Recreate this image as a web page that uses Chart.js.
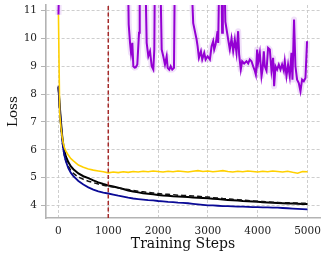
<!DOCTYPE html>
<html lang="en">
<head>
    <meta charset="UTF-8">
    <title>Loss vs Training Steps</title>
    <script src="https://cdn.jsdelivr.net/npm/chart.js"></script>
    <style>
        body {
            margin: 0;
            padding: 0;
            background: #ffffff;
        }
        canvas {
            display: block;
        }
    </style>
</head>
<body>
    <canvas id="lossChart" width="329" height="261"></canvas>

    <script>
        // x values shared by the yellow, blue and black curves
        const steps = [0, 25, 50, 75, 100, 125, 150, 200, 250, 300, 400, 500, 600, 700, 800, 900,
            1000, 1100, 1200, 1300, 1400, 1500, 1600, 1700, 1800, 1900,
            2000, 2100, 2200, 2300, 2400, 2500, 2600, 2700, 2800, 2900,
            3000, 3100, 3200, 3300, 3400, 3500, 3600, 3700, 3800, 3900,
            4000, 4100, 4200, 4300, 4400, 4500, 4600, 4700, 4800, 4900, 5000];

        const yellowLoss = [10.85, 7.3, 6.8, 6.45, 6.2, 6.05, 5.95, 5.8, 5.68, 5.6, 5.45, 5.37, 5.31, 5.27, 5.24, 5.21,
            5.17, 5.2, 5.18, 5.21, 5.19, 5.22, 5.2, 5.23, 5.21, 5.24,
            5.22, 5.2, 5.23, 5.21, 5.24, 5.22, 5.2, 5.23, 5.25, 5.22,
            5.24, 5.21, 5.23, 5.25, 5.22, 5.2, 5.23, 5.21, 5.24, 5.22,
            5.2, 5.23, 5.21, 5.24, 5.22, 5.2, 5.23, 5.19, 5.16, 5.22, 5.21];

        const blueLoss = [8.3, 7.5, 6.9, 6.35, 6.0, 5.75, 5.58, 5.33, 5.17, 5.05, 4.88, 4.75, 4.65, 4.57, 4.51, 4.46,
            4.43, 4.39, 4.35, 4.32, 4.28, 4.25, 4.23, 4.21, 4.19, 4.18,
            4.16, 4.15, 4.13, 4.12, 4.1, 4.09, 4.08, 4.06, 4.04, 4.02,
            4.0, 4.0, 3.99, 3.98, 3.98, 3.97, 3.96, 3.96, 3.95, 3.94,
            3.94, 3.93, 3.93, 3.92, 3.92, 3.91, 3.9, 3.89, 3.88, 3.87, 3.86];

        const blackLoss = [8.25, 7.6, 7.0, 6.5, 6.15, 5.92, 5.75, 5.55, 5.4, 5.3, 5.15, 5.05, 4.98, 4.9, 4.83, 4.77,
            4.72, 4.68, 4.64, 4.59, 4.54, 4.5, 4.47, 4.44, 4.42, 4.4,
            4.38, 4.36, 4.35, 4.33, 4.32, 4.31, 4.3, 4.29, 4.28, 4.27,
            4.26, 4.24, 4.23, 4.21, 4.2, 4.19, 4.18, 4.16, 4.15, 4.14,
            4.13, 4.12, 4.11, 4.1, 4.09, 4.08, 4.07, 4.07, 4.06, 4.05, 4.05];

        const dashedLoss = [8.25, 7.4, 6.8, 6.3, 5.98, 5.75, 5.6, 5.4, 5.25, 5.15, 5.02, 4.94, 4.87, 4.82, 4.77, 4.73,
            4.69, 4.66, 4.63, 4.6, 4.57, 4.54, 4.51, 4.49, 4.47, 4.45,
            4.43, 4.41, 4.4, 4.39, 4.37, 4.36, 4.35, 4.34, 4.33, 4.31,
            4.3, 4.28, 4.27, 4.25, 4.24, 4.22, 4.21, 4.19, 4.18, 4.16,
            4.15, 4.14, 4.13, 4.12, 4.11, 4.1, 4.1, 4.09, 4.09, 4.08, 4.08];

        // purple run is noisy and mostly off the top of the plot early on
        const purpleSteps = [0, 25, 1390, 1410, 1437, 1457, 1483, 1503, 1530, 1551, 1583, 1617, 1631,
            1737, 1771, 1804, 1838, 1872, 1904, 1924, 1938,
            2038, 2072, 2104, 2138, 2172, 2192, 2224, 2253, 2285, 2319, 2339,
            2650, 2705, 2773, 2793, 2820, 2860, 2886, 2926, 2954, 2994, 3040, 3074, 3106, 3126, 3154, 3194, 3206,
            3235, 3265, 3285, 3300, 3325, 3350, 3407, 3440, 3474, 3507, 3540, 3574, 3607, 3627, 3660, 3687,
            3727, 3775, 3808, 3841, 3875, 3908, 3941, 3962, 3988, 4008, 4042, 4076, 4096, 4122, 4142, 4176,
            4208, 4243, 4276, 4309, 4329, 4357, 4389, 4423, 4457, 4489, 4523, 4543, 4577, 4609, 4643, 4677,
            4697, 4729, 4757, 4790, 4824, 4858, 4890, 4924, 4958, 4990];
        const purpleLoss = [10.85, 13, 13, 10.5, 9.84, 9.48, 9.84, 9.0, 8.95, 8.96, 9.06, 10.2, 13,
            13, 9.84, 9.36, 9.54, 9.0, 8.88, 9.6, 13,
            13, 9.6, 9.36, 9.06, 9.36, 8.94, 8.88, 9.0, 8.88, 8.94, 13,
            13, 10.55, 9.96, 9.72, 9.3, 9.54, 9.24, 9.48, 9.24, 9.36, 9.24, 9.72, 9.9, 9.6, 9.78, 10.26, 9.84,
            13, 13, 10.2, 13, 13, 10.6, 9.96, 9.6, 10.0, 9.54, 9.96, 9.48, 10.26, 9.42, 8.88, 9.18,
            9.1, 9.18, 9.1, 9.24, 9.18, 9.0, 8.84, 8.7, 9.6, 9.12, 9.48, 8.64, 8.88, 9.54, 9.0, 8.84,
            9.66, 9.6, 8.84, 9.3, 8.28, 9.0, 8.88, 9.06, 8.88, 9.06, 8.84, 9.18, 8.64, 9.06, 8.64, 9.48,
            8.52, 10.68, 9.0, 8.52, 8.4, 8.1, 8.52, 8.46, 8.58, 9.9];

        const markerStep = 1000;
        const xTicks = [0, 1000, 2000, 3000, 4000, 5000];
        const yTicks = [4, 5, 6, 7, 8, 9, 10, 11];
        const xMin = -250, xMax = 5250;
        const yMin = 3.55, yMax = 11.2;

        function points(xs, ys) {
            return xs.map((x, i) => ({ x: x, y: ys[i] }));
        }

        const serif = "'DejaVu Serif', 'Liberation Serif', serif";
        const line = { pointRadius: 0, tension: 0, fill: false };

        const ctx = document.getElementById('lossChart').getContext('2d');
        new Chart(ctx, {
            type: 'line',
            data: {
                datasets: [
                    {
                        ...line,
                        data: [{ x: markerStep, y: yMin }, { x: markerStep, y: yMax }],
                        borderColor: '#a52a2a',
                        borderWidth: 1.5,
                        borderDash: [4, 2.5]
                    },
                    { ...line, data: points(steps, yellowLoss), borderColor: '#ffd000', borderWidth: 1.6 },
                    { ...line, data: points(steps, blueLoss), borderColor: '#0a0a96', borderWidth: 1.8 },
                    { ...line, data: points(steps, dashedLoss), borderColor: '#111111', borderWidth: 1.5, borderDash: [5, 3] },
                    { ...line, data: points(steps, blackLoss), borderColor: '#000000', borderWidth: 2 },
                    { ...line, data: points(purpleSteps, purpleLoss), borderColor: '#9400d3', borderWidth: 2 },
                    {
                        // light shaded spread around the purple run
                        ...line,
                        data: points(purpleSteps, purpleLoss),
                        borderColor: 'rgba(160, 60, 220, 0.16)',
                        borderWidth: 6,
                        borderJoinStyle: 'round',
                        borderCapStyle: 'butt'
                    }
                ]
            },
            options: {
                responsive: false,
                animation: false,
                devicePixelRatio: 1,
                layout: { padding: { left: 0, right: 9, top: 5, bottom: 0 } },
                plugins: {
                    legend: { display: false },
                    tooltip: { enabled: false }
                },
                scales: {
                    x: {
                        type: 'linear',
                        min: xMin,
                        max: xMax,
                        afterBuildTicks: s => { s.ticks = xTicks.map(v => ({ value: v })); },
                        afterFit: s => { s.height = 43; s.paddingLeft = 0; s.paddingRight = 0; },
                        grid: {
                            color: '#c8c8c8',
                            lineWidth: 0.9,
                            drawTicks: true,
                            tickLength: 2,
                            tickColor: 'rgba(0,0,0,0)'
                        },
                        border: { display: true, color: '#b3b3b3', width: 1.6, dash: [3, 2] },
                        ticks: {
                            padding: 5,
                            maxRotation: 0,
                            color: '#222222',
                            font: { family: serif, size: 10.5 },
                            callback: v => String(v)
                        },
                        title: {
                            display: true,
                            text: 'Training Steps',
                            color: '#111111',
                            font: { family: serif, size: 14 },
                            padding: { top: 0, bottom: 8 }
                        }
                    },
                    y: {
                        type: 'linear',
                        min: yMin,
                        max: yMax,
                        afterBuildTicks: s => { s.ticks = yTicks.map(v => ({ value: v })); },
                        afterFit: s => { s.width = 46; s.paddingTop = 0; s.paddingBottom = 0; },
                        grid: {
                            color: '#c8c8c8',
                            lineWidth: 0.9,
                            drawTicks: true,
                            tickLength: 5,
                            tickColor: '#b3b3b3',
                            tickWidth: 1
                        },
                        border: { display: true, color: '#b3b3b3', width: 1.6, dash: [3, 2] },
                        ticks: {
                            padding: 4,
                            color: '#222222',
                            font: { family: serif, size: 10.5 },
                            callback: v => String(v)
                        },
                        title: {
                            display: true,
                            text: 'Loss',
                            color: '#111111',
                            font: { family: serif, size: 13.5 },
                            padding: { top: 5, bottom: 0 }
                        }
                    }
                }
            }
        });
    </script>
</body>
</html>
